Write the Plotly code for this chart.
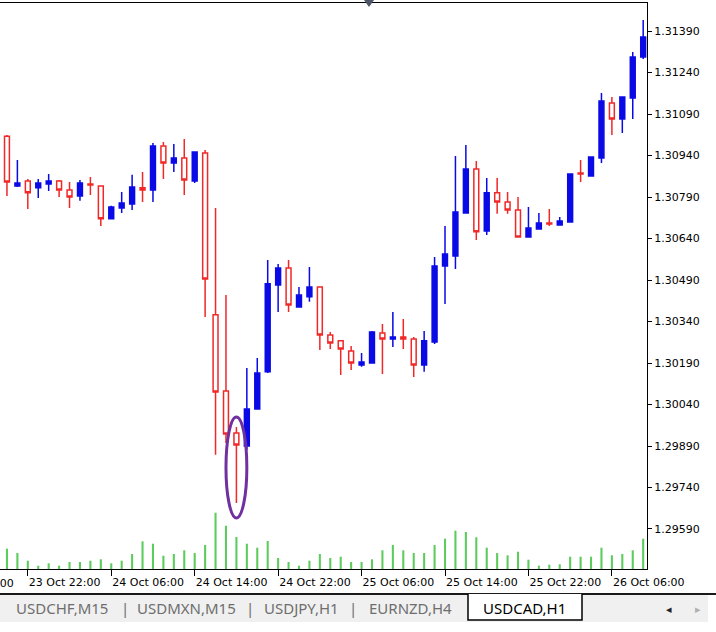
import pandas as pd
import plotly.graph_objects as go

# USDCAD, H1 bars from 23 Oct 2018 20:00 to 26 Oct 2018 09:00
first_bar = "2018-10-23 20:00"

opens = [1.31010, 1.30830, 1.30848, 1.30823, 1.30837, 1.30848, 1.30815, 1.30794, 1.30837, 1.30830,
         1.30711, 1.30750, 1.30765, 1.30823, 1.30815, 1.30974, 1.30913, 1.30931, 1.30848, 1.30949,
         1.30364, 1.30089, 1.29937, 1.29890, 1.30024, 1.30158, 1.30472, 1.30533, 1.30392, 1.30429,
         1.30465, 1.30291, 1.30270, 1.30233, 1.30183, 1.30190, 1.30298, 1.30277, 1.30284, 1.30277,
         1.30183, 1.30266, 1.30541, 1.30577, 1.30732, 1.30891, 1.30667, 1.30805, 1.30772, 1.30743,
         1.30645, 1.30674, 1.30696, 1.30689, 1.30700, 1.30877, 1.30866, 1.30931, 1.31130, 1.31072,
         1.31148, 1.31296]
highs = [1.31014, 1.30924, 1.30855, 1.30855, 1.30873, 1.30851, 1.30844, 1.30851, 1.30862, 1.30830,
         1.30758, 1.30808, 1.30870, 1.30880, 1.30985, 1.30989, 1.30982, 1.31000, 1.30953, 1.30960,
         1.30750, 1.30436, 1.29959, 1.30172, 1.30208, 1.30562, 1.30548, 1.30562, 1.30465, 1.30537,
         1.30465, 1.30302, 1.30273, 1.30251, 1.30226, 1.30306, 1.30331, 1.30374, 1.30349, 1.30284,
         1.30306, 1.30573, 1.30685, 1.30938, 1.30978, 1.30920, 1.30859, 1.30859, 1.30808, 1.30790,
         1.30754, 1.30732, 1.30747, 1.30718, 1.30873, 1.30924, 1.30935, 1.31166, 1.31151, 1.31151,
         1.31314, 1.31430]
lows = [1.30794, 1.30826, 1.30747, 1.30786, 1.30812, 1.30790, 1.30750, 1.30776, 1.30797, 1.30685,
        1.30711, 1.30732, 1.30743, 1.30772, 1.30772, 1.30855, 1.30880, 1.30797, 1.30841, 1.30356,
        1.29858, 1.29901, 1.29684, 1.29876, 1.30024, 1.30154, 1.30374, 1.30374, 1.30392, 1.30411,
        1.30237, 1.30241, 1.30147, 1.30165, 1.30176, 1.30190, 1.30150, 1.30248, 1.30241, 1.30139,
        1.30158, 1.30259, 1.30403, 1.30530, 1.30729, 1.30635, 1.30653, 1.30729, 1.30729, 1.30645,
        1.30645, 1.30674, 1.30685, 1.30689, 1.30700, 1.30844, 1.30866, 1.30913, 1.31014, 1.31021,
        1.31072, 1.31289]
closes = [1.30844, 1.30841, 1.30805, 1.30841, 1.30848, 1.30815, 1.30790, 1.30841, 1.30833, 1.30711,
          1.30754, 1.30768, 1.30826, 1.30815, 1.30974, 1.30913, 1.30931, 1.30851, 1.30953, 1.30494,
          1.30085, 1.29933, 1.29894, 1.30024, 1.30154, 1.30476, 1.30533, 1.30400, 1.30436, 1.30465,
          1.30291, 1.30262, 1.30241, 1.30190, 1.30194, 1.30302, 1.30277, 1.30284, 1.30277, 1.30183,
          1.30270, 1.30541, 1.30584, 1.30736, 1.30891, 1.30664, 1.30805, 1.30772, 1.30743, 1.30645,
          1.30678, 1.30696, 1.30692, 1.30703, 1.30873, 1.30873, 1.30935, 1.31137, 1.31072, 1.31151,
          1.31296, 1.31368]
volumes = [2030, 1600, 830, 330, 570, 330, 700, 700, 830, 970,
           570, 830, 1500, 2770, 2530, 1330, 1500, 1870, 1600, 2400,
           5630, 4330, 3200, 2530, 2130, 2800, 1100, 700, 330, 830,
           1500, 1100, 1230, 700, 700, 970, 1870, 2400, 1870, 1600,
           1600, 2400, 3030, 3830, 3700, 3170, 2130, 1600, 1370, 1730,
           930, 330, 430, 470, 1230, 1230, 1230, 2130, 1370, 1500,
           1870, 3030]

price_ticks = [1.29590, 1.29740, 1.29890, 1.30040, 1.30190, 1.30340, 1.30490,
               1.30640, 1.30790, 1.30940, 1.31090, 1.31240, 1.31390]
time_ticks = ["2018-10-23 22:00", "2018-10-24 06:00", "2018-10-24 14:00", "2018-10-24 22:00",
              "2018-10-25 06:00", "2018-10-25 14:00", "2018-10-25 22:00", "2018-10-26 06:00"]
cut_tick = "2018-10-23 14:00"  # label half hidden at the left edge
tabs = ["USDCHF,M15", "USDMXN,M15", "USDJPY,H1", "EURNZD,H4", "USDCAD,H1"]
active_tab = "USDCAD,H1"
marked_bar = 22

# page geometry (pixels)
W, H = 716, 632
ML, MR, MT, MB = 0, 69, 3, 63
PW, PH = W - ML - MR, H - MT - MB


def px(x):
    return (x - ML) / PW


def py(y):
    return (H - MB - y) / PH


times = pd.date_range(first_bar, periods=len(opens), freq="h")
t_lo = times[0] - pd.Timedelta(minutes=40)
t_hi = times[-1] + pd.Timedelta(minutes=22)
y_lo, y_hi = 1.294454, 1.314912

fig = go.Figure()
fig.add_trace(go.Candlestick(
    x=times, open=opens, high=highs, low=lows, close=closes,
    increasing=dict(line=dict(color="#0a0ae6", width=1.5), fillcolor="#0a0ae6"),
    decreasing=dict(line=dict(color="#f02828", width=1.5), fillcolor="#ffffff"),
    whiskerwidth=0, hoverinfo="skip"))
fig.add_trace(go.Bar(
    x=times, y=volumes, yaxis="y2", width=0.2 * 3600 * 1000,
    marker=dict(color="#5ccc5c", line=dict(width=0)), hoverinfo="skip"))

axis_font = dict(family="DejaVu Sans", size=11, color="#000000")
fig.update_layout(
    width=W, height=H,
    margin=dict(l=ML, r=MR, t=MT, b=MB, pad=0),
    paper_bgcolor="#ffffff", plot_bgcolor="#ffffff",
    showlegend=False, boxgap=0.33,
    xaxis=dict(
        type="date", range=[t_lo, t_hi], rangeslider=dict(visible=False),
        showgrid=False, zeroline=False, showline=True, mirror=True,
        linecolor="#000000", linewidth=1,
        tickmode="array", tickvals=pd.to_datetime(time_ticks),
        ticktext=[pd.Timestamp(t).strftime("%d %b %H:%M") for t in time_ticks],
        ticks="outside", ticklen=6, tickcolor="#000000", tickwidth=1,
        ticklabelposition="outside right", ticklabelstandoff=3, tickfont=axis_font),
    yaxis=dict(
        side="right", range=[y_lo, y_hi], showgrid=False, zeroline=False,
        showline=True, linecolor="#000000", linewidth=1,
        tickmode="array", tickvals=price_ticks, tickformat=".5f",
        ticks="outside", ticklen=4, tickcolor="#000000", tickfont=axis_font),
    yaxis2=dict(overlaying="y", range=[0, PH * 100], visible=False),
)

# ring around the marked bar
mt = times[marked_bar]
fig.add_shape(type="circle", xref="x", yref="y",
              x0=mt - pd.Timedelta(minutes=60), x1=mt + pd.Timedelta(minutes=60),
              y0=lows[marked_bar] - 0.00054, y1=highs[marked_bar] + 0.00036,
              line=dict(color="#7030a0", width=3))

# partly hidden time label at the left edge
cut_x = (pd.Timestamp(cut_tick) - t_lo) / (t_hi - t_lo)
fig.add_annotation(text=pd.Timestamp(cut_tick).strftime("%d %b %H:%M"), xref="paper", yref="paper",
                   x=cut_x, y=py(583), xanchor="left", yanchor="middle", showarrow=False,
                   font=axis_font, xshift=-4)

# chart shift marker at the top
fig.add_shape(type="path", xref="paper", yref="paper", line=dict(width=0), fillcolor="#4e5566",
              path=f"M {px(364)},{py(0)} L {px(374)},{py(0)} L {px(369)},{py(7)} Z")

# tab strip under the chart
fig.add_shape(type="rect", xref="paper", yref="paper", x0=px(0), x1=px(708), y0=py(595), y1=py(622),
              fillcolor="#f0f0f0", line=dict(width=0), layer="below")
fig.add_shape(type="line", xref="paper", yref="paper", x0=px(0), x1=px(716), y0=py(594), y1=py(594),
              line=dict(color="#1a1a1a", width=2))
fig.add_shape(type="path", xref="paper", yref="paper", fillcolor="#ffffff",
              line=dict(color="#000000", width=1.5),
              path=f"M {px(468)},{py(594)} L {px(468)},{py(620)} L {px(582)},{py(620)} L {px(582)},{py(594)}")

tab_centers = [62, 186, 301, 410, 524]
for name, cx in zip(tabs, tab_centers):
    fig.add_annotation(text=name, xref="paper", yref="paper", x=px(cx), y=py(608),
                       xanchor="center", yanchor="middle", showarrow=False,
                       font=dict(family="Noto Sans", size=15,
                                 color="#000000" if name == active_tab else "#6e6e6e"))
for sx in [125, 250, 353]:
    fig.add_annotation(text="|", xref="paper", yref="paper", x=px(sx), y=py(608),
                       xanchor="center", yanchor="middle", showarrow=False,
                       font=dict(family="Noto Sans", size=15, color="#6e6e6e"))
fig.add_annotation(text="◂", xref="paper", yref="paper", x=px(669), y=py(609),
                   xanchor="center", yanchor="middle", showarrow=False,
                   font=dict(family="DejaVu Sans", size=11, color="#222222"))
fig.add_annotation(text="▸", xref="paper", yref="paper", x=px(698), y=py(609),
                   xanchor="center", yanchor="middle", showarrow=False,
                   font=dict(family="DejaVu Sans", size=11, color="#b0b0b0"))

fig.write_html("out.html", config={"displayModeBar": False},
               post_script="document.body.style.margin='0';")
